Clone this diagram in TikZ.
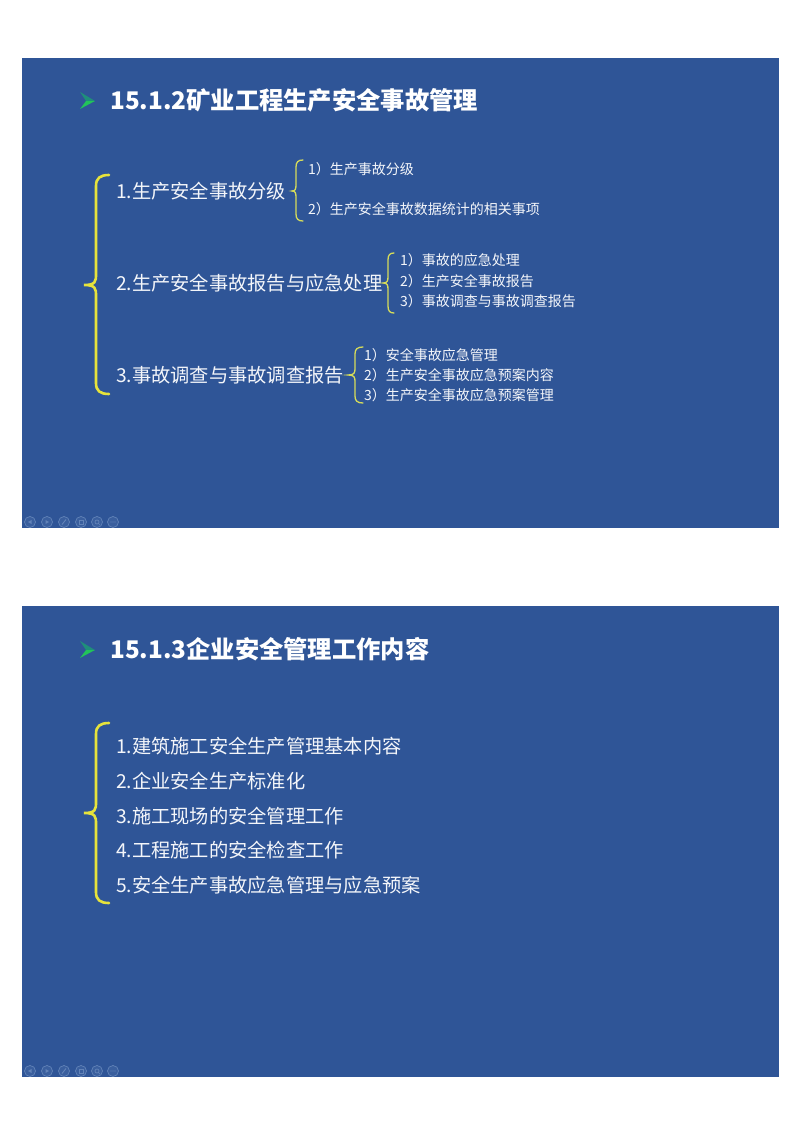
\documentclass[tikz,border=0pt]{standalone}
\usepackage{fontspec}
\setmainfont{Noto Sans CJK SC}

\newcommand{\slidebrace}[8]{% vertical x, end x, top y, mid y, tip x, bottom y, curve length, style
	\draw[#8] (#2,#3) .. controls (#1+0.3*#2-0.3*#1,#3) and (#1,#3+0.3*#7) .. (#1,#3+#7)
		-- (#1,#4-#7) .. controls (#1,#4-0.3*#7) and (#1-0.5,#4) .. (#5,#4)
		.. controls (#1-0.5,#4) and (#1,#4+0.3*#7) .. (#1,#4+#7)
		-- (#1,#6-#7) .. controls (#1,#6-0.3*#7) and (#1+0.3*#2-0.3*#1,#6) .. (#2,#6);
}
\tikzset{
	slide/.style={fill=slideblue, draw=none},
	titletext/.style={anchor=west, inner sep=0pt, text=white, font=\fontsize{24.3}{28}\selectfont\bfseries},
	maintext/.style={anchor=west, inner sep=0pt, text=textwhite, font=\fontsize{19.25}{24}\selectfont},
	subtext/.style={anchor=west, inner sep=0pt, text=textwhite, font=\fontsize{14}{18}\selectfont},
	bigbrace/.style={draw=braceyellow, line width=2.6pt, line cap=round},
	smallbrace/.style={draw=braceolive, line width=1.3pt, line cap=round},
	toolbtn/.style={draw=btnline, fill=btnfill, line width=0.7pt}
}
\definecolor{slideblue}{HTML}{2F5597}
\definecolor{textwhite}{HTML}{F4F6FA}
\definecolor{braceyellow}{HTML}{E6E33C}
\definecolor{braceolive}{HTML}{D6DC5A}
\definecolor{btnline}{HTML}{6283B8}
\definecolor{btnfill}{HTML}{3A5F9E}
\definecolor{bulletgreen}{HTML}{22C35A}
\definecolor{bulletteal}{HTML}{1F8F7A}

\begin{document}
\begin{tikzpicture}[x=1pt, y=-1pt]
	\useasboundingbox (0,0) rectangle (800,1132);
	
	% Two slides
	\fill[slide] (21.5,58) rectangle (779,528);
	\fill[slide] (21.5,606) rectangle (779,1077);
	
	% Arrow bullets
	\foreach \y in {101,650} {
		\fill[bulletteal] (95,\y) -- (80,\y-9) -- (86,\y) -- cycle;
		\fill[bulletgreen] (95,\y) -- (86,\y) -- (80,\y+8) -- cycle;
	}
	
	% Player buttons
	\foreach \y in {522,1071} {
		\foreach \x in {30,47,64,81,97,113} {
			\draw[toolbtn] (\x,\y) circle (5.5);
		}
		\fill[btnline] (31.5,\y-2) -- (28,\y) -- (31.5,\y+2) -- cycle;
		\fill[btnline] (45.5,\y-2) -- (49,\y) -- (45.5,\y+2) -- cycle;
		\draw[btnline, line width=0.9pt] (62,\y+2.5) -- (66,\y-2.5);
		\draw[btnline, line width=0.8pt] (79,\y-2) rectangle (83,\y+2.5);
		\draw[btnline, line width=0.7pt] (97,\y) circle (2) (98.5,\y+1.5) -- (100,\y+3);
		\fill[btnline] (111,\y) circle (0.7) (113,\y) circle (0.7) (115,\y) circle (0.7);
	}
	
	% Slide 1
	\node[titletext] (title1) at (110,100) {15.1.2矿业工程生产安全事故管理};
	\slidebrace{96}{109}{175}{285}{84}{394}{11}{bigbrace}
	
	\node[maintext] (a1) at (116,191) {1.生产安全事故分级};
	\node[maintext] (a2) at (116,283) {2.生产安全事故报告与应急处理};
	\node[maintext] (a3) at (116,375) {3.事故调查与事故调查报告};
	
	\slidebrace{296}{303}{160}{191}{292}{221}{7}{smallbrace}
	\node[subtext] (a11) at (308,169) {1）生产事故分级};
	\node[subtext] (a12) at (308,209) {2）生产安全事故数据统计的相关事项};
	
	\slidebrace{388}{394}{253}{283}{383}{313}{7}{smallbrace}
	\node[subtext] (a21) at (400,260) {1）事故的应急处理};
	\node[subtext] (a22) at (400,281) {2）生产安全事故报告};
	\node[subtext] (a23) at (400,301) {3）事故调查与事故调查报告};
	
	\slidebrace{355}{363}{347}{375}{348}{403}{7}{smallbrace}
	\node[subtext] (a31) at (364,355) {1）安全事故应急管理};
	\node[subtext] (a32) at (364,375) {2）生产安全事故应急预案内容};
	\node[subtext] (a33) at (364,395) {3）生产安全事故应急预案管理};
	
	% Slide 2
	\node[titletext] (title2) at (110,649) {15.1.3企业安全管理工作内容};
	\slidebrace{96}{109}{723}{813}{84}{903}{11}{bigbrace}
	
	\node[maintext] (b1) at (116,746) {1.建筑施工安全生产管理基本内容};
	\node[maintext] (b2) at (116,781) {2.企业安全生产标准化};
	\node[maintext] (b3) at (116,816) {3.施工现场的安全管理工作};
	\node[maintext] (b4) at (116,850) {4.工程施工的安全检查工作};
	\node[maintext] (b5) at (116,885) {5.安全生产事故应急管理与应急预案};
\end{tikzpicture}
\end{document}
